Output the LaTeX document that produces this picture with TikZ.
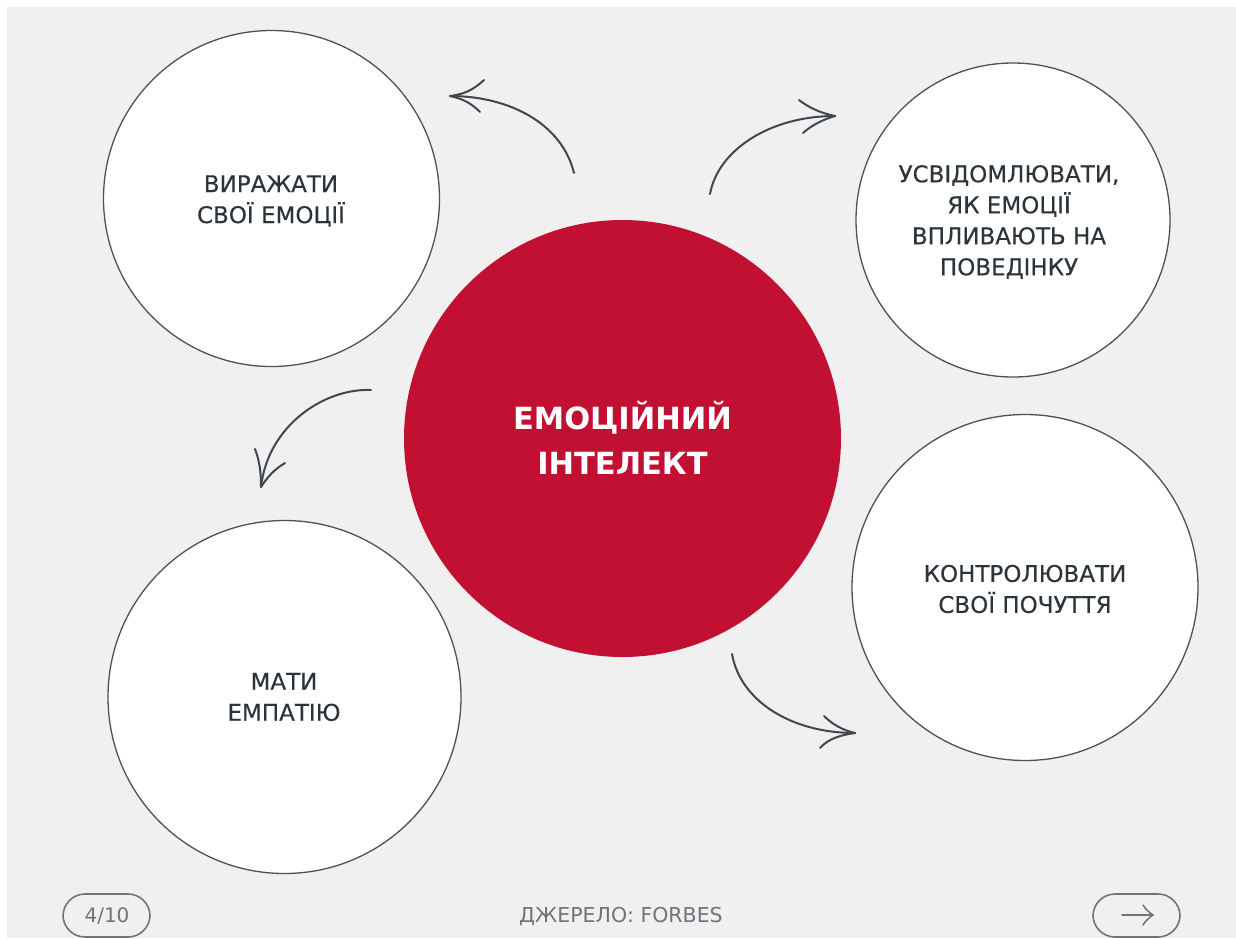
\documentclass[tikz,border=0pt]{standalone}
\usepackage{fontspec}
\setmainfont{DejaVu Sans}
\newfontfamily\medf[FakeBold=0.25]{DejaVu Sans}
\usetikzlibrary{arrows.meta}
\definecolor{bgc}{HTML}{F0F0F0}
\definecolor{redc}{HTML}{C21033}
\definecolor{inkc}{HTML}{2B333B}
\definecolor{grayc}{HTML}{6E7479}
\tikzset{
  x=1pt,y=-1pt,
  whitecircle/.style={circle,draw=inkc!85,line width=1.3pt,fill=white,inner sep=0pt},
  redcircle/.style={circle,fill=redc,inner sep=0pt},
  lab/.style={align=center,text=inkc,font=\medf\fontsize{23}{31}\selectfont},
  curvearrow/.style={draw=inkc!90,line width=2pt,line cap=round,line join=round},
  pill/.style={draw=grayc,line width=1.6pt,rounded corners=22pt,fill=none},
  foot/.style={text=grayc,font=\fontsize{20}{22}\selectfont}
}
\begin{document}
\begin{tikzpicture}
\useasboundingbox (0,0) rectangle (1236,938);
\fill[white] (0,0) rectangle (1236,938);
\fill[bgc] (7,7) rectangle (1236,938);
\node[whitecircle,minimum size=336pt] (c1) at (271.5,198.5) {};
\node[whitecircle,minimum size=314pt] (c2) at (1013,220) {};
\node[whitecircle,minimum size=346pt] (c3) at (1025,587.5) {};
\node[whitecircle,minimum size=353pt] (c4) at (284.5,697) {};
\node[redcircle,minimum size=437pt] (c0) at (622.5,438.5) {};
\node[lab] (t1) at (271,201) {ВИРАЖАТИ\\СВОЇ ЕМОЦІЇ};
\node[lab] (t2) at (1009,222) {УСВІДОМЛЮВАТИ,\\ЯК ЕМОЦІЇ\\ВПЛИВАЮТЬ НА\\ПОВЕДІНКУ};
\node[lab] (t3) at (1025,589) {КОНТРОЛЮВАТИ\\СВОЇ ПОЧУТТЯ};
\node[lab] (t4) at (284,697) {МАТИ\\ЕМПАТІЮ};
\node[align=center,text=white,font=\bfseries\fontsize{30.5}{45}\selectfont] (t0) at (622.5,438) {ЕМОЦІЙНИЙ\\ІНТЕЛЕКТ};
\coordinate (a1s) at (574,173); \coordinate (a1e) at (450,96);
\coordinate (a2s) at (710,194); \coordinate (a2e) at (835,116);
\coordinate (a3s) at (371,390); \coordinate (a3e) at (261,487);
\coordinate (a4s) at (732,654); \coordinate (a4e) at (855,733);
\draw[curvearrow] (a1s) .. controls (562,124) and (510,96) .. (a1e);
\draw[curvearrow] (484,80) .. controls (473,90) and (465,94) .. (a1e) .. controls (464,99) and (472,104) .. (480,112);
\draw[curvearrow] (a2s) .. controls (718,150) and (770,116) .. (a2e);
\draw[curvearrow] (799,100) .. controls (808,107) and (820,113) .. (a2e) .. controls (822,120) and (812,125) .. (803,133);
\draw[curvearrow] (a3s) .. controls (325,388) and (268,425) .. (a3e);
\draw[curvearrow] (255,449) .. controls (260,462) and (261,474) .. (a3e) .. controls (268,476) and (275,469) .. (285,463);
\draw[curvearrow] (a4s) .. controls (740,700) and (790,733) .. (a4e);
\draw[curvearrow] (824,716) .. controls (832,724) and (842,730) .. (a4e) .. controls (840,735) and (828,739) .. (820,748);
\draw[pill] (63,937) -- (63,894) -- (150,894) -- (150,937) -- cycle;
\node[foot] (p1) at (107,916) {4/10};
\node[foot,font=\fontsize{20.5}{22}\selectfont] (src) at (621,916) {ДЖЕРЕЛО: FORBES};
\draw[pill] (1093,937) -- (1093,894) -- (1180,894) -- (1180,937) -- cycle;
\coordinate (ns) at (1122,915); \coordinate (ne) at (1153,915);
\draw[grayc,line width=1.5pt,line cap=round] (ns) -- (ne);
\draw[grayc,line width=1.5pt,line cap=round,line join=round] (1143,905) .. controls (1146,910) and (1150,913) .. (ne) .. controls (1150,917) and (1146,920) .. (1143,925);
\end{tikzpicture}
\end{document}
